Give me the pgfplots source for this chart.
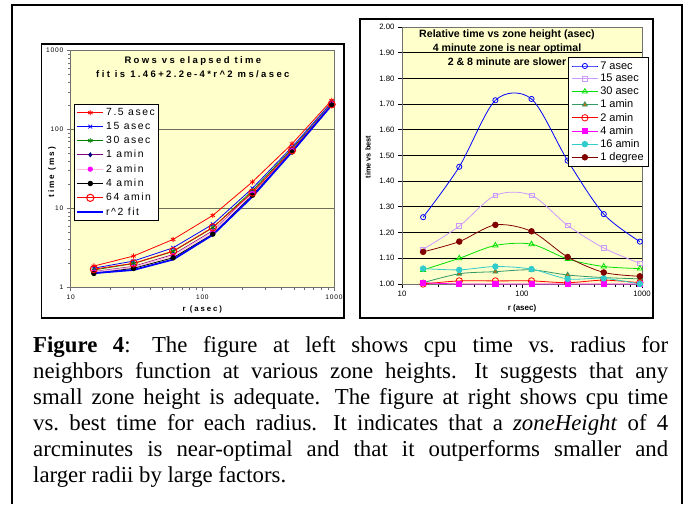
\documentclass[border=0pt]{standalone}
\usepackage{pgfplots}
\pgfplotsset{compat=1.18}
\usepackage{fontspec}
\setmainfont{Liberation Serif}
\setsansfont{Liberation Sans}
\newfontfamily\arial{Liberation Sans}
\newfontfamily\arialwide[LetterSpace=25]{Liberation Sans}
\newfontfamily\arialleg[LetterSpace=15]{Liberation Sans}
\newfontfamily\arialtick[LetterSpace=12]{Liberation Sans}

\definecolor{plotbg}{HTML}{FFFFCC}
\definecolor{axgray}{HTML}{707070}
\definecolor{gridol}{HTML}{6E6E5A}
\definecolor{cpurple}{HTML}{800080}
\definecolor{cnavy}{HTML}{000080}
\definecolor{cpink}{HTML}{FFB8E8}
\definecolor{cmag}{HTML}{FF00FF}
\definecolor{cgreen}{HTML}{008000}
\definecolor{clav}{HTML}{CC99FF}
\definecolor{clime}{HTML}{00E000}
\definecolor{csea}{HTML}{339966}
\definecolor{corange}{HTML}{CC6600}
\definecolor{ccyan}{HTML}{33CCCC}
\definecolor{cmaroon}{HTML}{800000}

\pgfplotsset{
  shortleg/.style={legend image code/.code={
    \draw[mark repeat=2,mark phase=2,##1] plot coordinates {(0pt,0pt) (13pt,0pt) (26pt,0pt)};}},
}

\begin{document}
\begin{tikzpicture}
\useasboundingbox (0pt,0pt) rectangle (688pt,504pt);
% outer frame and chart boxes
\draw[line width=2pt] (12pt,0pt) -- (12pt,499pt) -- (682pt,499pt) -- (682pt,0pt);
\draw[line width=1.3pt] (41.7pt,186pt) rectangle (344pt,460pt);
\draw[line width=1.3pt] (360pt,186pt) rectangle (653pt,485pt);

% left chart
\begin{axis}[
  at={(70.7pt,216.7pt)}, anchor=south west, scale only axis,
  width=263.3pt, height=236.6pt,
  xmode=log, ymode=log,
  xmin=10, xmax=1000, ymin=1, ymax=1000,
  xtick={10,100,1000}, ytick={1,10,100,1000},
  minor xtick={}, minor ytick={},
  log ticks with fixed point,
  /pgf/number format/1000 sep={},
  /pgf/number format/assume math mode=true,
  tick pos=left, tick align=outside, major tick length=4pt,
  every tick/.style={draw=axgray, line width=0.8pt},
  axis background/.style={fill=plotbg},
  axis line style={draw=axgray, line width=0.8pt},
  ymajorgrids, grid style={draw=gridol, line width=1pt},
  ticklabel style={font=\arialtick\fontsize{6.6}{7}\selectfont},
  xlabel={r (asec)}, ylabel={time (ms)},
  xlabel style={at={(axis description cs:0.5,-0.0917)}, anchor=center, font=\arialwide\bfseries\fontsize{7.8}{9}\selectfont},
  ylabel style={at={(axis description cs:-0.071,0.487)}, anchor=center, font=\arialwide\bfseries\fontsize{8.2}{9}\selectfont},
  clip=false,
  shortleg,
  legend cell align=left,
  legend style={at={(0.0125,0.775)}, anchor=north west, draw=black, line width=0.8pt, fill=white,
    font=\arialleg\fontsize{10.4}{11}\selectfont, row sep=1.3pt, inner xsep=2pt, inner ysep=2pt},
]
\addplot[red, line width=0.8pt, mark=asterisk, mark size=2.6pt] coordinates {
  (15,1.86) (30,2.49) (60,4.05) (120,8.15) (240,21.7) (480,66) (960,235)};
\addplot[blue, line width=0.8pt, mark=x, mark size=2.6pt] coordinates {
  (15,1.75) (30,2.15) (60,3.17) (120,6.3) (240,18.0) (480,60) (960,222)};
\addplot[cgreen, line width=0.8pt, mark=asterisk, mark size=2.6pt] coordinates {
  (15,1.66) (30,2.0) (60,2.85) (120,5.7) (240,16.8) (480,57) (960,216)};
\addplot[cpurple, line width=0.8pt, mark=diamond*, mark size=2pt, mark options={fill=cnavy, draw=cnavy}] coordinates {
  (15,1.58) (30,1.84) (60,2.6) (120,5.2) (240,15.8) (480,55) (960,212)};
\addplot[cpink, line width=1.2pt, mark=*, mark size=2pt, mark options={fill=cmag, draw=cmag}] coordinates {
  (15,1.56) (30,1.80) (60,2.52) (120,5.05) (240,15.5) (480,54) (960,210)};
\addplot[black, line width=0.8pt, mark=*, mark size=2.3pt] coordinates {
  (15,1.50) (30,1.74) (60,2.37) (120,4.73) (240,14.7) (480,52) (960,205)};
\addplot[red, line width=0.8pt, mark=o, mark size=3.6pt, mark options={line width=1pt}] coordinates {
  (15,1.70) (30,2.01) (60,2.88) (120,5.75) (240,15.9) (480,54.7) (960,209)};
\addplot[blue, line width=1.8pt] coordinates {
  (15,1.51) (30,1.66) (60,2.25) (120,4.63) (240,14.13) (480,52.15) (960,204.2)};
\legend{7.5 asec, 15 asec, 30 asec, 1 amin, 2 amin, 4 amin, 64 amin, r\textasciicircum 2 fit}
\node[align=center, font=\arialwide\bfseries\fontsize{9.5}{13.3}\selectfont] at (axis description cs:0.464,0.93)
  {Rows vs elapsed time\\fit is 1.46+2.2e-4*r\textasciicircum 2 ms/asec};
\end{axis}

% right chart
\begin{axis}[
  at={(402pt,220pt)}, anchor=south west, scale only axis,
  width=240pt, height=257pt,
  xmode=log,
  xmin=10, xmax=1000, ymin=1, ymax=2,
  xtick={10,100,1000}, ytick={1,1.1,...,2.01},
  minor xtick={},
  log ticks with fixed point,
  /pgf/number format/1000 sep={},
  /pgf/number format/assume math mode=true,
  yticklabel style={/pgf/number format/.cd, fixed, fixed zerofill, precision=2},
  tick pos=left, tick align=outside, major tick length=4pt,
  every tick/.style={draw=black, line width=0.8pt},
  axis background/.style={fill=plotbg},
  axis line style={draw=axgray, line width=0.8pt},
  ymajorgrids, grid style={draw=black, line width=0.9pt},
  ticklabel style={font=\arial\fontsize{7.8}{8}\selectfont},
  xlabel={r (asec)}, ylabel={time vs best},
  xlabel style={at={(axis description cs:0.5,-0.0934)}, anchor=center, font=\arial\bfseries\fontsize{8}{9}\selectfont},
  ylabel style={at={(axis description cs:-0.142,0.494)}, anchor=center, font=\arial\bfseries\fontsize{7.4}{8}\selectfont},
  clip=false,
  shortleg,
  legend cell align=left,
  legend style={at={(0.692,0.883)}, anchor=north west, draw=black, line width=0.8pt, fill=white,
    font=\arial\fontsize{11}{12}\selectfont, row sep=-0.3pt, inner xsep=3pt, inner ysep=2pt},
]
\addplot[blue, line width=0.8pt, smooth, mark=o, mark size=2.6pt, mark options={solid}] coordinates {
  (15,1.26) (30,1.456) (60,1.715) (120,1.72) (240,1.48) (480,1.272) (960,1.165)};
\addplot[clav, line width=0.8pt, smooth, mark=square, mark size=2.4pt] coordinates {
  (15,1.135) (30,1.225) (60,1.345) (120,1.345) (240,1.228) (480,1.14) (960,1.08)};
\addplot[clime, line width=0.8pt, smooth, mark=triangle, mark size=3pt] coordinates {
  (15,1.055) (30,1.10) (60,1.15) (120,1.155) (240,1.097) (480,1.068) (960,1.06)};
\addplot[csea, line width=0.8pt, smooth, mark=triangle*, mark size=2.8pt, mark options={fill=corange}] coordinates {
  (15,1.005) (30,1.04) (60,1.048) (120,1.055) (240,1.035) (480,1.025) (960,1.02)};
\addplot[red, line width=0.8pt, smooth, mark=o, mark size=3.2pt] coordinates {
  (15,1.0) (30,1.012) (60,1.012) (120,1.012) (240,1.005) (480,1.015) (960,1.005)};
\addplot[cmag, line width=0.8pt, smooth, mark=square*, mark size=2.6pt] coordinates {
  (15,1.005) (30,1.0) (60,1.0) (120,1.0) (240,1.0) (480,1.0) (960,1.0)};
\addplot[ccyan, line width=0.8pt, smooth, mark=*, mark size=2.8pt] coordinates {
  (15,1.06) (30,1.055) (60,1.068) (120,1.058) (240,1.02) (480,1.022) (960,1.0)};
\addplot[cmaroon, line width=0.8pt, smooth, mark=*, mark size=2.8pt] coordinates {
  (15,1.125) (30,1.165) (60,1.23) (120,1.205) (240,1.105) (480,1.045) (960,1.03)};
\legend{7 asec, 15 asec, 30 asec, 1 amin, 2 amin, 4 amin, 16 amin, 1 degree}
\node[align=center, font=\arial\bfseries\fontsize{10.6}{14}\selectfont] at (axis description cs:0.4375,0.918)
  {Relative time vs zone height (asec)\\4 minute zone is near optimal\\2 \& 8 minute are slower};
\end{axis}

% caption
\begin{scope}[every node/.style={anchor=base west, inner sep=0pt, font=\fontsize{22.8}{26}\selectfont\frenchspacing}]
\node at (33pt,152pt) {\makebox[635pt][s]{\textbf{Figure 4}: \hspace{0.25em}The figure at left shows cpu time vs. radius for}};
\node at (33pt,126pt) {\makebox[635pt][s]{neighbors function at various zone heights. \hspace{0.25em}It suggests that any}};
\node at (33pt,100pt) {\makebox[635pt][s]{small zone height is adequate. \hspace{0.25em}The figure at right shows cpu time}};
\node at (33pt,74pt) {\makebox[635pt][s]{vs. best time for each radius. \hspace{0.25em}It indicates that a \textit{zoneHeight} of 4}};
\node at (33pt,48pt) {\makebox[635pt][s]{arcminutes is near-optimal and that it outperforms smaller and}};
\node at (33pt,22pt) {larger radii by large factors.};
\end{scope}
\end{tikzpicture}
\end{document}
